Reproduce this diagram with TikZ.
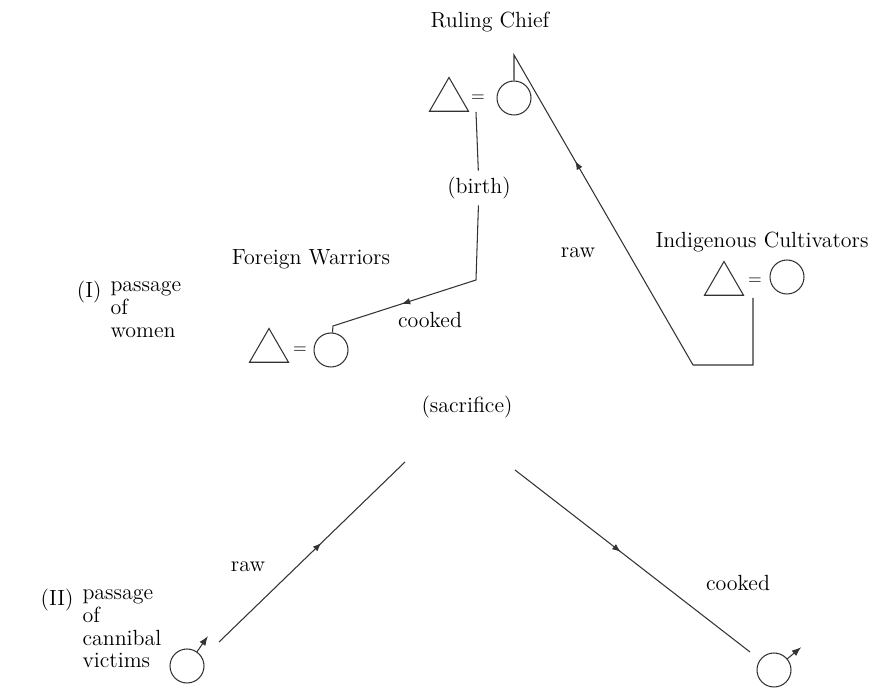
\documentclass[tikz,border=0pt]{standalone}
\usepackage{tikz}
\usetikzlibrary{shapes.geometric,decorations.markings,arrows.meta}

\tikzset{
	man/.style={draw, regular polygon, regular polygon sides=3, minimum size=0.9cm, inner sep=0pt},
	woman/.style={draw, circle, minimum size=0.68cm, inner sep=0pt},
	equals/.style={inner sep=0pt, font=\normalsize},
	midarrow/.style={postaction={decorate}, decoration={markings,
		mark=at position #1 with {\arrow{Latex[length=1.7mm,width=1.3mm]}}}},
	sexarrow/.style={-{Latex[length=1.9mm,width=1.4mm]}},
	passage/.style={anchor=north west, align=left, inner sep=0pt},
}

\begin{document}
\begin{tikzpicture}[x=0.02cm, y=-0.02cm, line width=0.6pt, draw=black!80,
		font=\fontsize{12.5}{13}\selectfont]
		\useasboundingbox (0,0) rectangle (873,688);
		% passage of women
		\node (chief) at (490,22) {Ruling Chief};
		\node[man] (m1) at (449,100) {};
		\node[equals] (eq1) at (478,98) {=};
		\node[woman] (w1) at (514,98) {};
		\node (birth) at (479,188) {(birth)};
		\node (warriors) at (311,259) {Foreign Warriors};
		\node[man] (m2) at (269,351) {};
		\node[equals] (eq2) at (300,350) {=};
		\node[woman] (w2) at (331,350) {};
		\node (cultivators) at (762,242) {Indigenous Cultivators};
		\node[man] (m3) at (724,284) {};
		\node[equals] (eq3) at (755,281) {=};
		\node[woman] (w3) at (787,277) {};
		\node (raw1) at (578,253) {raw};
		\node (cooked1) at (430,320) {cooked};
		\coordinate (apex) at (514,55);
		\coordinate (bend1) at (476,280);
		\coordinate (bend2) at (333,326);
		\coordinate (corner1) at (693,365);
		\coordinate (corner2) at (753,365);
		\draw (476,112) -- (birth);
		\draw[midarrow=0.66] (birth) -- (bend1) -- (bend2) -- (w2);
		\draw[midarrow=0.71] (753,298) -- (corner2) -- (corner1) -- (apex) -- (w1);
		\node[anchor=north east, inner sep=0pt] (i) at (102,281) {(I)};
		\node[passage] (women) at (110,281) {passage\\of\\women};
		% passage of cannibal victims
		\node (sacrifice) at (467,407) {(sacrifice)};
		\coordinate (s1) at (405,462);
		\coordinate (s2) at (515,470);
		\coordinate (v1) at (219,642);
		\coordinate (v2) at (750,652);
		\node[woman] (w4) at (187,666) {};
		\node[woman] (w5) at (774,670) {};
		\draw[sexarrow] (w4.55) -- ++(55:0.38cm);
		\draw[sexarrow] (w5.40) -- ++(40:0.36cm);
		\draw[midarrow=0.55] (v1) -- (s1);
		\draw[midarrow=0.45] (s2) -- (v2);
		\node (raw2) at (248,567) {raw};
		\node (cooked2) at (738,583) {cooked};
		\node[anchor=north east, inner sep=0pt] (ii) at (74,589) {(II)};
		\node[passage] (victims) at (82,589) {passage\\of\\cannibal\\victims};
	\end{tikzpicture}
\end{document}
